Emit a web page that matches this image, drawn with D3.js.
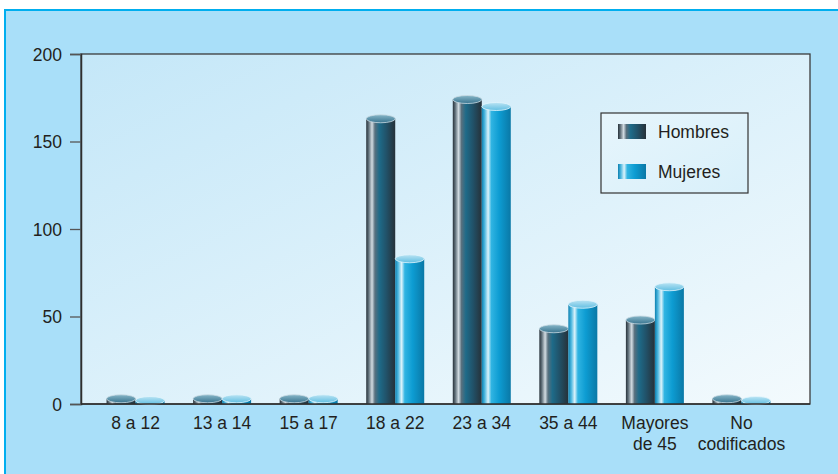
<!DOCTYPE html>
<html>
<head>
<meta charset="utf-8">
<script src="https://cdn.jsdelivr.net/npm/d3@7/dist/d3.min.js"></script>
<style>
  body { margin: 0; background: #fff; }
  text { font-family: "Liberation Sans", Arial, Helvetica, sans-serif; fill: #231f20; }
</style>
</head>
<body>
<script>

// data
var categories = ["8 a 12", "13 a 14", "15 a 17", "18 a 22", "23 a 34", "35 a 44", "Mayores\nde 45", "No\ncodificados"];
var hombres = [3, 3, 3, 163, 174, 43, 48, 3];
var mujeres = [2, 3, 3, 83, 170, 57, 67, 2];
var seriesNames = ["Hombres", "Mujeres"];
var yTicks = [0, 50, 100, 150, 200];

var width = 838,
    height = 474,
    plot = {left: 81, top: 54, right: 810, bottom: 404};

var data = categories.map(function(c, i) {
  return {cat: c, values: [{key: "Hombres", value: hombres[i]}, {key: "Mujeres", value: mujeres[i]}]};
});

var svg = d3.select("body").append("svg")
    .attr("width", width)
    .attr("height", height);

var defs = svg.append("defs");

// background of the plot area
var bg = defs.append("linearGradient").attr("id", "plotbg")
    .attr("x1", 0).attr("y1", 0).attr("x2", 1).attr("y2", 1);
bg.append("stop").attr("offset", "0%").attr("stop-color", "#c4e7f8");
bg.append("stop").attr("offset", "100%").attr("stop-color", "#f3fafd");

var lg = defs.append("linearGradient").attr("id", "legbg")
    .attr("x1", 0).attr("y1", 0).attr("x2", 1).attr("y2", 1);
lg.append("stop").attr("offset", "0%").attr("stop-color", "#e6f5fc");
lg.append("stop").attr("offset", "100%").attr("stop-color", "#d9f0fa");

// cylinder side gradients
var sideStops = {
  Hombres: [[0, "#28323a"], [0.08, "#5c6c76"], [0.2, "#d2dce2"], [0.3, "#58707e"], [0.45, "#1e6b89"], [0.7, "#215168"], [1, "#263139"]],
  Mujeres: [[0, "#0c80b0"], [0.1, "#4cb7df"], [0.22, "#dcf3fb"], [0.33, "#30b4e2"], [0.6, "#0d9cd2"], [1, "#0a78a6"]]
};
var topStops = {
  Hombres: [[0, "#86b6c8"], [1, "#3a7590"]],
  Mujeres: [[0, "#b9e3f3"], [1, "#62bfe2"]]
};
seriesNames.forEach(function(s) {
  var g = defs.append("linearGradient").attr("id", "side-" + s)
      .attr("x1", 0).attr("y1", 0).attr("x2", 1).attr("y2", 0);
  sideStops[s].forEach(function(st) {
    g.append("stop").attr("offset", st[0]).attr("stop-color", st[1]);
  });
  var t = defs.append("linearGradient").attr("id", "top-" + s)
      .attr("x1", 0).attr("y1", 0).attr("x2", 0).attr("y2", 1);
  topStops[s].forEach(function(st) {
    t.append("stop").attr("offset", st[0]).attr("stop-color", st[1]);
  });
});

// outer frame
svg.append("rect")
    .attr("x", 5).attr("y", 10)
    .attr("width", width + 10).attr("height", height + 10)
    .attr("fill", "#a9dff9")
    .attr("stroke", "#00aeef")
    .attr("stroke-width", 2);

var x = d3.scaleBand()
    .domain(categories)
    .range([78, 799])
    .padding(0.33);

var x1 = d3.scaleBand()
    .domain(seriesNames)
    .range([0, x.bandwidth()]);

var y = d3.scaleLinear()
    .domain([0, 200])
    .range([plot.bottom, plot.top]);

// plot area
svg.append("rect")
    .attr("x", plot.left).attr("y", plot.top)
    .attr("width", plot.right - plot.left)
    .attr("height", plot.bottom - plot.top)
    .attr("fill", "url(#plotbg)")
    .attr("stroke", "#3b3b3b")
    .attr("stroke-width", 1.3);

// bars as cylinders
var ry = 4;
var groups = svg.selectAll(".cat")
    .data(data)
  .enter().append("g")
    .attr("class", "cat")
    .attr("transform", function(d) { return "translate(" + x(d.cat) + ",0)"; });

var cyl = groups.selectAll(".cyl")
    .data(function(d) { return d.values; })
  .enter().append("g")
    .attr("class", "cyl");

cyl.append("rect")
    .attr("x", function(d) { return x1(d.key); })
    .attr("y", function(d) { return y(d.value); })
    .attr("width", x1.bandwidth())
    .attr("height", function(d) { return y(0) - y(d.value); })
    .attr("fill", function(d) { return "url(#side-" + d.key + ")"; });

cyl.append("ellipse")
    .attr("cx", function(d) { return x1(d.key) + x1.bandwidth() / 2; })
    .attr("cy", function(d) { return y(d.value); })
    .attr("rx", x1.bandwidth() / 2)
    .attr("ry", ry)
    .attr("fill", function(d) { return "url(#top-" + d.key + ")"; })
    .attr("stroke", function(d) { return d.key == "Hombres" ? "#c9dbe3" : "#e2f5fc"; })
    .attr("stroke-width", 0.8);

// axis lines on top of the bars
svg.append("line")
    .attr("x1", plot.left).attr("x2", plot.right)
    .attr("y1", plot.bottom).attr("y2", plot.bottom)
    .attr("stroke", "#2e2e2e").attr("stroke-width", 1.5);

// y axis
var yAxis = svg.append("g")
    .attr("transform", "translate(" + plot.left + ",0)")
    .call(d3.axisLeft(y).tickValues(yTicks).tickSize(11).tickPadding(8));
yAxis.select(".domain").attr("stroke", "#2e2e2e").attr("stroke-width", 1.5);
yAxis.selectAll(".tick line").attr("stroke", "#555").attr("stroke-width", 1.3);
yAxis.selectAll("text")
    .attr("font-size", 17.5)
    .attr("fill", "#231f20")
    .attr("font-family", "'Liberation Sans', Arial, sans-serif")
    .attr("dy", "0.36em");

// x labels
var xl = svg.selectAll(".xlab")
    .data(categories)
  .enter().append("text")
    .attr("class", "xlab")
    .attr("text-anchor", "middle")
    .attr("font-size", 17.5)
    .attr("y", 429);
xl.selectAll("tspan")
    .data(function(d) { return d.split("\n").map(function(t) { return {t: t, c: d}; }); })
  .enter().append("tspan")
    .attr("x", function(d) { return x(d.c) + x.bandwidth() / 2; })
    .attr("dy", function(d, i) { return i ? 20.5 : 0; })
    .text(function(d) { return d.t; });

// legend
var legend = svg.append("g").attr("transform", "translate(601,113)");
legend.append("rect")
    .attr("width", 147).attr("height", 80)
    .attr("fill", "url(#legbg)")
    .attr("stroke", "#333").attr("stroke-width", 1.2);
var li = legend.selectAll(".li")
    .data(seriesNames)
  .enter().append("g")
    .attr("transform", function(d, i) { return "translate(17," + (11 + i * 40) + ")"; });
li.append("rect")
    .attr("width", 28).attr("height", 15)
    .attr("fill", function(d) { return "url(#side-" + d + ")"; });
li.append("text")
    .attr("x", 40).attr("y", 14)
    .attr("font-size", 17.5)
    .text(function(d) { return d; });

</script>
</body>
</html>
